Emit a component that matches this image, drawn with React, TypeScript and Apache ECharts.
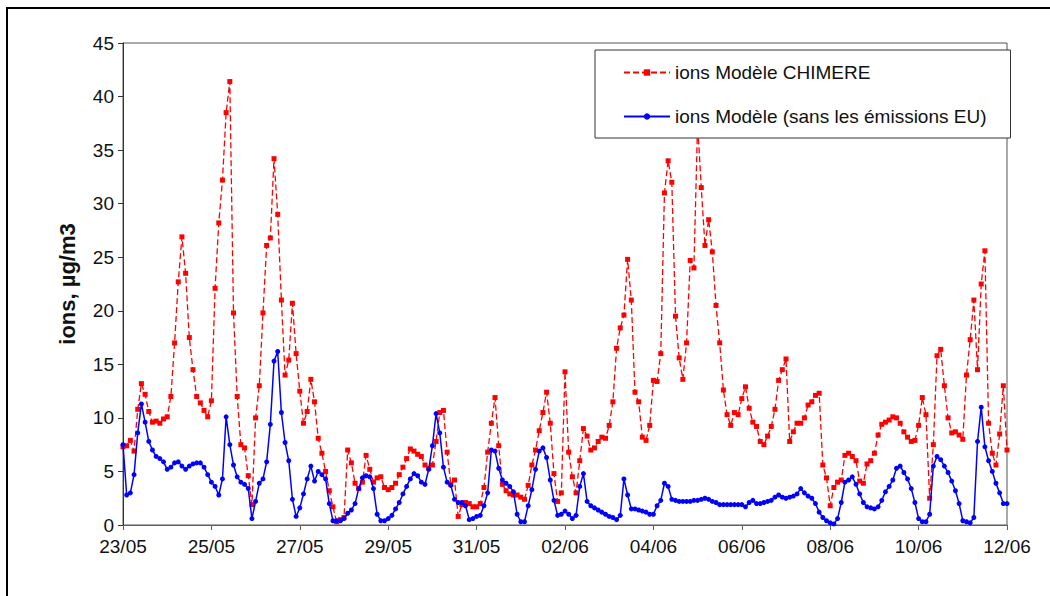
import React, { useEffect, useRef } from "react";
import * as echarts from "echarts";

// x tick labels (every 2 days, from 23/05 to 12/06)
const xTickLabels = ["23/05", "25/05", "27/05", "29/05", "31/05", "02/06", "04/06", "06/06", "08/06", "10/06", "12/06"];

// one value every 2 hours, starting 23/05 00:00
const hoursPerPoint = 2;

const seriesNames = ["ions Modèle CHIMERE", "ions Modèle (sans les émissions EU)"];

const chimere = [
  7.3, 7.4, 7.9, 6.9, 10.8, 13.2, 12.2, 10.6, 9.6, 9.7, 9.5, 9.9,
  10.1, 12.0, 17.0, 22.7, 26.9, 23.5, 17.5, 14.5, 12.0, 11.4, 10.7, 10.1,
  11.6, 22.1, 28.2, 32.2, 38.5, 41.4, 19.8, 12.0, 7.5, 7.2, 4.6, 1.9,
  10.0, 13.0, 19.8, 26.1, 26.8, 34.2, 29.0, 21.0, 14.0, 15.4, 20.7, 16.0,
  12.5, 9.5, 10.6, 13.6, 11.5, 8.1, 6.7, 5.0, 3.2, 1.7, 0.3, 0.5,
  0.7, 7.0, 5.8, 3.9, 3.4, 4.0, 6.5, 5.2, 4.0, 4.4, 4.5, 3.5,
  3.3, 3.5, 3.9, 4.7, 5.4, 6.2, 7.1, 6.9, 6.6, 6.4, 5.6, 5.3,
  5.6, 7.8, 10.5, 10.7, 6.8, 3.8, 4.2, 0.8, 1.9, 2.1, 2.0, 1.7,
  1.7, 2.0, 3.5, 6.8, 9.5, 11.9, 7.4, 3.8, 3.2, 2.9, 2.8, 2.8,
  2.6, 2.4, 3.7, 5.6, 7.0, 8.8, 10.5, 12.4, 9.5, 4.8, 2.2, 3.0,
  14.3, 6.8, 4.5, 3.0, 6.0, 9.0, 8.3, 7.0, 7.2, 7.8, 8.2, 8.1,
  9.3, 11.5, 16.5, 18.4, 19.6, 24.8, 21.0, 12.4, 11.5, 8.2, 7.9, 9.3,
  13.5, 13.4, 16.0, 31.0, 34.0, 32.0, 19.5, 15.6, 13.6, 17.0, 24.7, 24.0,
  37.5, 31.5, 26.1, 28.5, 25.5, 20.5, 17.0, 12.6, 10.3, 9.3, 10.5, 10.3,
  11.8, 12.9, 10.9, 9.6, 9.2, 7.8, 7.5, 8.3, 9.2, 10.8, 13.5, 14.5,
  15.5, 7.8, 8.7, 9.5, 9.5, 10.0, 11.2, 11.5, 12.1, 12.3, 5.6, 4.4,
  1.8, 3.5, 4.0, 4.2, 6.5, 6.7, 6.4, 6.0, 4.1, 3.9, 5.7, 6.0,
  6.7, 8.4, 9.4, 9.6, 9.8, 10.1, 10.0, 9.5, 8.7, 8.2, 7.8, 7.9,
  9.3, 11.9, 10.3, 2.5, 7.5, 15.8, 16.4, 13.0, 10.0, 8.6, 8.7, 8.4,
  8.0, 14.0, 17.3, 21.0, 14.5, 22.5, 25.6, 9.5, 6.7, 5.6, 8.5, 13.0,
  7.0,
];

const sansEU = [
  7.5, 2.8, 3.0, 4.7, 8.6, 11.3, 9.6, 7.8, 7.0, 6.4, 6.2, 5.9,
  5.2, 5.4, 5.8, 5.9, 5.5, 5.2, 5.5, 5.7, 5.8, 5.8, 5.4, 4.7,
  4.0, 3.6, 2.8, 4.3, 10.1, 7.5, 5.6, 4.5, 4.0, 3.8, 3.4, 0.6,
  2.2, 3.9, 4.3, 5.9, 9.4, 15.3, 16.2, 10.5, 7.7, 6.0, 2.4, 0.8,
  1.6, 2.9, 4.3, 5.5, 4.1, 5.0, 4.7, 4.3, 2.0, 0.4, 0.4, 0.4,
  0.6, 1.1, 1.4, 2.0, 3.4, 4.4, 4.6, 4.5, 3.4, 1.0, 0.4, 0.4,
  0.6, 0.9, 1.5, 2.1, 2.9, 3.6, 4.3, 4.8, 4.6, 4.0, 3.8, 5.2,
  7.4, 10.4, 8.6, 5.4, 4.0, 3.7, 2.4, 2.1, 2.1, 1.8, 0.5, 0.6,
  0.8, 0.9, 1.8, 3.0, 7.0, 6.9, 5.3, 4.2, 3.9, 3.6, 3.1, 1.0,
  0.3, 0.3, 1.8, 3.3, 5.2, 6.9, 7.2, 6.3, 4.2, 2.3, 0.9, 1.0,
  1.3, 1.0, 0.6, 0.9, 3.6, 4.8, 2.2, 1.8, 1.6, 1.4, 1.2, 1.0,
  0.8, 0.7, 0.5, 0.9, 4.3, 2.8, 1.5, 1.5, 1.4, 1.3, 1.2, 1.0,
  1.0, 1.8, 2.3, 3.9, 3.6, 2.4, 2.3, 2.2, 2.2, 2.2, 2.2, 2.3,
  2.3, 2.4, 2.5, 2.4, 2.2, 2.1, 1.9, 1.9, 1.9, 1.9, 1.9, 1.9,
  1.9, 1.7, 2.1, 2.3, 2.0, 2.0, 2.1, 2.2, 2.3, 2.6, 2.8, 2.6,
  2.5, 2.6, 2.7, 2.9, 3.4, 3.0, 2.7, 2.5, 2.0, 1.2, 0.7, 0.4,
  0.2, 0.1, 0.6, 2.1, 4.0, 4.2, 4.5, 3.8, 2.9, 2.1, 1.7, 1.6,
  1.5, 1.7, 2.3, 3.1, 3.6, 4.2, 5.3, 5.5, 4.9, 4.3, 3.4, 2.1,
  0.6, 0.3, 0.3, 1.0, 5.5, 6.4, 6.1, 5.5, 4.9, 4.1, 3.2, 2.0,
  0.4, 0.3, 0.2, 0.7, 7.8, 11.0, 7.3, 6.0, 5.0, 3.9, 3.0, 2.0,
  2.0,
];

const FONT = '"Liberation Sans", Arial, sans-serif';

export default function App() {
  const ref = useRef<HTMLDivElement>(null);
  useEffect(() => {
    const chart = echarts.init(ref.current as HTMLDivElement, null, { renderer: "svg" });
    const toPairs = (arr: number[]) => arr.map((v, i) => [(i * hoursPerPoint) / 24, v]);
    chart.setOption({
      animation: false,
      backgroundColor: "#ffffff",
      textStyle: { fontFamily: FONT },
      grid: {
        left: 123,
        right: 43,
        top: 43,
        bottom: 71,
        show: true,
        borderColor: "#555555",
        borderWidth: 1,
      },
      xAxis: {
        type: "value",
        min: 0,
        max: 20,
        interval: 2,
        axisLine: { show: true, lineStyle: { color: "#606060", width: 1 } },
        axisTick: { show: true, length: 5, lineStyle: { color: "#606060" } },
        axisLabel: {
          color: "#111111",
          fontSize: 19,
          fontFamily: FONT,
          margin: 12,
          formatter: (v: number) => xTickLabels[Math.round(v / 2)] ?? "",
        },
        splitLine: { show: false },
      },
      yAxis: {
        type: "value",
        min: 0,
        max: 45,
        interval: 5,
        name: "ions, µg/m3",
        nameLocation: "middle",
        nameGap: 45,
        nameRotate: 90,
        nameTextStyle: { fontSize: 22, fontWeight: "bold", color: "#111111", fontFamily: FONT },
        axisLine: { show: true, lineStyle: { color: "#333333", width: 1 } },
        axisTick: { show: true, length: 5, lineStyle: { color: "#333333" } },
        axisLabel: { color: "#111111", fontSize: 19, fontFamily: FONT, margin: 9 },
        splitLine: { show: false },
      },
      legend: {
        orient: "vertical",
        left: 595,
        top: 50,
        padding: [13, 24, 12, 28],
        itemGap: 25,
        itemWidth: 46,
        itemHeight: 8,
        backgroundColor: "#ffffff",
        borderColor: "#333333",
        borderWidth: 1,
        textStyle: { fontSize: 19, color: "#111111", fontFamily: FONT },
        data: seriesNames,
      },
      graphic: [
        {
          type: "rect",
          shape: { x: 7, y: 8, width: 1200, height: 800 },
          style: { fill: "none", stroke: "#000000", lineWidth: 2 },
          silent: true,
        },
      ],
      series: [
        {
          type: "line",
          name: seriesNames[0],
          data: toPairs(chimere),
          symbol: "rect",
          symbolSize: 5,
          showSymbol: true,
          showAllSymbol: true,
          itemStyle: { color: "#ff0000" },
          lineStyle: { color: "#ff0000", width: 1.3, type: [6, 3] },
          z: 2,
        },
        {
          type: "line",
          name: seriesNames[1],
          data: toPairs(sansEU),
          symbol: "circle",
          symbolSize: 5,
          showSymbol: true,
          showAllSymbol: true,
          itemStyle: { color: "#0000ff" },
          lineStyle: { color: "#0000ff", width: 1.5 },
          z: 3,
        },
      ],
    });
    return () => chart.dispose();
  }, []);
  return (
    <div
      ref={ref}
      style={{ position: "fixed", left: 0, top: 0, width: 1050, height: 596, background: "#ffffff" }}
    />
  );
}
